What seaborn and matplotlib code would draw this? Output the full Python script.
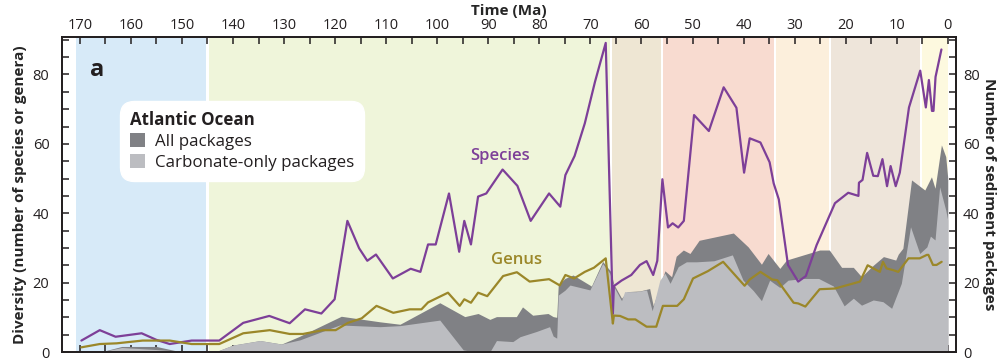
import numpy as np
import matplotlib
matplotlib.use("Agg")
import matplotlib.pyplot as plt
from matplotlib.patches import Patch
from matplotlib.ticker import MultipleLocator
import seaborn as sns

# geologic periods / epochs shown as background bands (Ma)
period_start = [171.0, 145.0, 66.0, 56.0, 33.9, 23.0, 5.3]
period_end = [145.0, 66.0, 56.0, 33.9, 23.0, 5.3, 0.0]
period_color = ['#d7eaf8', '#eff5da', '#eee6d3', '#f8dbd0', '#fcefdc', '#eee5da', '#fdf9df']

# diversity curves (age in Ma, count)
species_age = [169.7, 166.1, 163.0, 157.9, 155.0, 152.4, 148.1, 142.7, 138.0, 132.9, 128.9, 125.9,
               122.7, 120.1, 117.6, 115.3, 113.7, 112.0, 108.7, 105.2, 103.3, 101.8, 100.3, 97.7,
               95.7, 94.7, 93.4, 92.0, 90.4, 87.2, 84.3, 81.7, 78.1, 75.9, 74.9, 73.1, 71.1, 69.1,
               67.0, 65.6, 65.4, 63.9, 62.0, 60.3, 59.0, 57.7, 56.9, 55.9, 54.8, 53.9, 52.8, 51.7,
               49.7, 46.8, 43.9, 41.4, 39.9, 38.8, 36.7, 34.9, 34.1, 33.1, 31.3, 29.3, 27.8, 25.7,
               22.1, 19.5, 17.5, 17.4, 16.7, 15.8, 14.6, 13.7, 12.8, 11.9, 11.2, 10.2, 9.4, 7.6,
               5.4, 4.3, 3.7, 3.1, 2.8, 2.4, 1.25]
species_n = [3.3, 6.3, 4.4, 5.4, 3.5, 2.3, 3.3, 3.3, 8.4, 10.4, 8.3, 12.3,
             11.1, 15.2, 37.8, 29.9, 26.3, 28.1, 21.2, 24.0, 23.1, 31.0, 31.0, 45.7,
             28.9, 37.8, 31.0, 44.8, 45.7, 52.6, 47.9, 37.8, 45.7, 41.9, 51.0, 56.5, 65.9, 77.9,
             89.1, 11.0, 19.0, 20.6, 22.2, 25.1, 26.2, 22.2, 26.3, 49.8, 35.9, 37.1, 35.9, 37.8,
             68.3, 63.7, 76.3, 70.4, 51.7, 61.6, 60.4, 54.7, 48.6, 44.0, 25.1, 20.3, 21.9, 30.8,
             42.9, 45.9, 45.0, 48.8, 49.6, 57.4, 50.8, 50.7, 55.6, 47.8, 53.6, 47.8, 51.7, 70.5,
             81.1, 70.5, 78.4, 69.5, 69.5, 79.3, 87.2]

genus_age = [169.7, 166.1, 162.8, 157.7, 152.4, 148.1, 142.7, 138.0, 132.8, 128.9, 126.3, 122.4,
             119.9, 117.5, 114.8, 111.9, 108.6, 105.4, 103.1, 101.8, 97.9, 95.6, 94.7, 93.4,
             92.0, 90.2, 87.1, 84.4, 81.9, 78.1, 76.0, 74.9, 73.2, 71.1, 69.3, 67.0, 65.6, 65.4,
             64.2, 62.6, 61.2, 59.0, 57.1, 55.8, 53.0, 51.7, 49.9, 47.0, 44.0, 39.8, 38.8, 36.7,
             34.4, 33.4, 30.2, 29.3, 27.9, 25.1, 22.1, 17.2, 15.7, 14.2, 13.3, 12.7, 12.0, 10.7,
             9.7, 7.7, 5.5, 4.1, 3.8, 2.9, 2.2, 1.2]
genus_n = [1.35, 2.3, 2.5, 3.3, 3.3, 2.3, 2.3, 5.4, 6.3, 5.2, 5.2, 6.3,
           6.3, 8.4, 9.7, 13.3, 11.3, 12.3, 12.3, 14.3, 17.1, 13.3, 15.2, 14.2,
           17.1, 16.1, 21.9, 23.0, 20.3, 21.0, 19.2, 22.2, 21.2, 23.1, 24.3, 27.0, 8.2, 10.5,
           10.4, 9.4, 9.4, 7.3, 7.3, 13.3, 13.3, 15.2, 21.2, 23.3, 26.0, 19.1, 20.9, 23.1,
           20.9, 20.7, 14.2, 14.0, 13.1, 18.1, 18.3, 20.3, 25.0, 23.8, 23.1, 26.0, 24.1, 23.6,
           23.1, 27.0, 27.0, 28.0, 28.0, 25.1, 25.1, 26.0]

# sediment packages (right axis)
all_age = [166.0, 161.8, 155.0, 151.0, 143.0, 140.0, 134.7, 130.5, 127.0, 118.8, 111.2, 107.3,
           99.5, 94.6, 92.0, 89.7, 88.4, 84.5, 83.3, 81.3, 78.3, 77.3, 76.6, 76.3, 75.0, 73.4,
           69.8, 67.6, 66.1, 65.4, 63.9, 62.8, 60.3, 58.4, 57.7, 55.4, 54.1, 53.2, 51.8, 50.5,
           48.7, 42.0, 39.1, 36.5, 35.2, 32.9, 31.6, 25.1, 23.2, 20.8, 18.5, 16.9, 14.6, 12.6,
           10.2, 9.7, 8.8, 7.1, 4.5, 3.2, 2.5, 1.25, 0.4, 0.0]
all_n = [0, 1.6, 1.6, 0.3, 0.3, 2.0, 3.3, 2.3, 4.5, 10.3, 8.7, 8.0,
         14.2, 10.2, 11.1, 9.4, 10.2, 10.2, 13.0, 10.6, 11.1, 10.2, 10.0, 19.3, 21.2, 22.2,
         19.0, 26.1, 23.4, 19.5, 15.5, 17.4, 17.6, 18.3, 13.3, 23.4, 21.7, 27.6, 29.4, 28.4,
         32.2, 34.3, 30.3, 25.3, 28.4, 24.1, 26.5, 29.4, 29.4, 24.4, 24.4, 21.7, 25.0, 27.5,
         26.5, 28.2, 29.9, 49.6, 46.7, 50.5, 47.2, 59.7, 56.3, 50.0]

carb_age = [166.0, 161.8, 156.0, 151.0, 143.0, 140.0, 134.7, 130.5, 126.9, 119.1, 111.2, 107.3,
            99.5, 94.9, 92.4, 89.7, 88.4, 85.2, 83.8, 80.6, 78.0, 77.3, 76.6, 76.3, 75.0, 74.0,
            70.1, 67.6, 66.2, 65.4, 63.9, 63.3, 61.0, 59.0, 57.9, 56.4, 55.4, 54.4, 52.8, 51.2,
            49.2, 45.8, 42.2, 40.1, 38.1, 36.5, 34.9, 32.9, 31.3, 28.3, 25.3, 22.4, 20.3, 18.5,
            16.9, 14.6, 12.7, 11.0, 9.1, 7.3, 5.5, 4.1, 3.4, 2.5, 1.6, 0.4, 0.0]
carb_n = [0, 1.3, 0.8, 0.3, 0.3, 2.0, 3.3, 2.3, 3.5, 7.8, 7.3, 7.6,
          9.2, 0.6, 0, 0, 3.3, 3.0, 4.4, 5.9, 7.3, 4.6, 4.0, 16.4, 17.8, 19.3,
          17.9, 25.5, 22.7, 18.8, 14.8, 17.4, 17.4, 17.9, 11.9, 20.7, 22.7, 19.8, 24.6, 26.0,
          26.0, 26.3, 28.0, 20.7, 17.7, 14.8, 20.7, 18.6, 20.7, 21.2, 21.2, 19.0, 13.3, 15.5,
          13.5, 15.0, 14.5, 12.6, 19.8, 36.1, 28.4, 30.3, 33.4, 32.3, 47.6, 40.9, 38.0]

purple = '#7d3f98'
olive = '#9b8729'
dark_gray = '#808185'
light_gray = '#bcbdc1'
ink = '#231f20'

sns.set_style('ticks')
plt.rcParams['font.family'] = ['Open Sans', 'DejaVu Sans']
plt.rcParams['axes.edgecolor'] = ink
plt.rcParams['xtick.color'] = ink
plt.rcParams['ytick.color'] = ink

fig = plt.figure(figsize=(10.03, 3.6), dpi=100)
ax = fig.add_axes([0.0618, 0.0222, 0.8913, 0.875])

gap = 0.2
for s, e, c in zip(period_start, period_end, period_color):
    ax.axvspan(s - gap, e + gap if e > 0 else e, color=c, lw=0, zorder=0)

ax.fill_between(all_age, all_n, 0, color=dark_gray, lw=0, zorder=1)
ax.fill_between(carb_age, carb_n, 0, color=light_gray, lw=0, zorder=2)

sns.lineplot(x=species_age, y=species_n, color=purple, lw=1.6, sort=False,
             estimator=None, ax=ax, zorder=4)
sns.lineplot(x=genus_age, y=genus_n, color=olive, lw=1.6, sort=False,
             estimator=None, ax=ax, zorder=4)

ax.set_xlim(173.5, -1.6)
ax.set_ylim(0, 90.8)
ax.xaxis.set_major_locator(MultipleLocator(10))
ax.xaxis.set_minor_locator(MultipleLocator(5))
ax.yaxis.set_major_locator(MultipleLocator(20))
ax.yaxis.set_minor_locator(MultipleLocator(5))
ax.tick_params(axis='x', which='both', direction='in', top=True, bottom=True,
               labeltop=True, labelbottom=False, length=5, width=1.1, labelsize=10.5, pad=3)
ax.tick_params(axis='y', which='both', direction='in', left=True, right=False,
               length=5, width=1.1, labelsize=10.5, pad=9)
ax.xaxis.set_label_position('top')
ax.set_xlabel('Time (Ma)', fontsize=11, fontweight='bold', labelpad=2)
ax.set_ylabel('Diversity (number of species or genera)', fontsize=11, fontweight='bold', labelpad=4)
for sp in ax.spines.values():
    sp.set_linewidth(1.3)
    sp.set_visible(True)

ax2 = ax.twinx()
ax2.set_ylim(0, 90.8)
ax2.yaxis.set_major_locator(MultipleLocator(20))
ax2.yaxis.set_minor_locator(MultipleLocator(5))
ax2.tick_params(axis='y', which='both', direction='in', length=5, width=1.1,
                labelsize=10.5, pad=5)
ax2.set_ylabel('Number of sediment packages', fontsize=11, fontweight='bold',
               rotation=270, labelpad=12)
for sp in ax2.spines.values():
    sp.set_linewidth(1.3)

ax.text(0.031, 0.895, 'a', transform=ax.transAxes, fontsize=17, fontweight='bold',
        color=ink, va='center', ha='left')
ax.text(87.7, 56.5, 'Species', color=purple, fontsize=12, fontweight='semibold',
        ha='center', va='center', zorder=5)
ax.text(84.4, 26.5, 'Genus', color=olive, fontsize=12, fontweight='semibold',
        ha='center', va='center', zorder=5)

handles = [Patch(facecolor=dark_gray, lw=0), Patch(facecolor=light_gray, lw=0)]
leg = ax.legend(handles, ['All packages', 'Carbonate-only packages'], title='Atlantic Ocean',
                loc='upper left', bbox_to_anchor=(0.065, 0.797), frameon=True, fancybox=True,
                framealpha=1, edgecolor='white', facecolor='white', fontsize=12.2,
                title_fontproperties={'weight': 'bold', 'size': 12.2}, alignment='left',
                handlelength=0.85, handleheight=0.85, handletextpad=0.6, labelspacing=0.25,
                borderpad=0.6, borderaxespad=0)
leg.get_frame().set_boxstyle('round', pad=0, rounding_size=0.8)
leg.set_zorder(6)
for t in leg.get_texts():
    t.set_color(ink)
leg.get_title().set_color(ink)

fig.savefig('out.png', dpi=100)
